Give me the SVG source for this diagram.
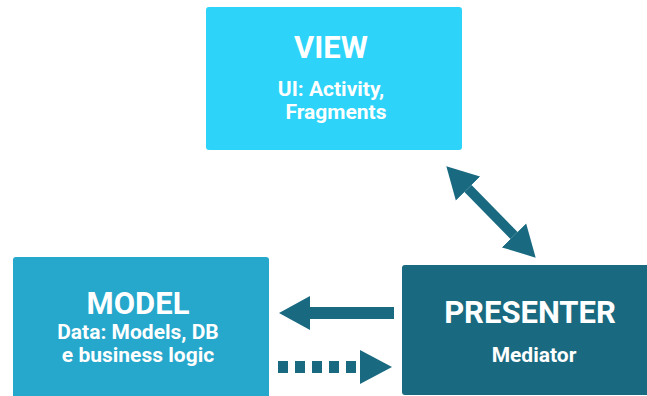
<svg xmlns="http://www.w3.org/2000/svg" width="647" height="396" viewBox="0 0 647 396">
<style>
.t{font-family:Roboto,"Liberation Sans",sans-serif;font-weight:bold;fill:#fff;text-anchor:middle}
.h{font-size:31px}
.s{font-size:21px}
.c{stroke:#196a80;fill:none}
</style>
<defs>
<marker id="ah" markerUnits="userSpaceOnUse" markerWidth="32" markerHeight="36" refX="0" refY="17" orient="auto-start-reverse" viewBox="0 0 32 34">
<path d="M0,0 L31,17 L0,34 z" fill="#196a80"/>
</marker>
<marker id="ah2" markerUnits="userSpaceOnUse" markerWidth="40" markerHeight="36" refX="-4" refY="17" orient="auto" viewBox="-4 0 40 34">
<path d="M0,0 L32,17 L0,34 z" fill="#196a80"/>
</marker>
</defs>
<rect width="647" height="396" fill="#fff"/>
<g id="view">
<rect x="206" y="7" width="256" height="143" rx="3" fill="#2dd3f9"/>
<text class="t h" x="331" y="58">VIEW</text>
<text class="t s" x="331" y="96">UI: Activity,</text>
<text class="t s" x="336" y="119">Fragments</text>
</g>
<g id="model">
<rect x="13" y="257" width="256" height="145" rx="3" fill="#26a7cc"/>
<text class="t h" x="138" y="314">MODEL</text>
<text class="t s" x="138" y="339">Data: Models, DB</text>
<text class="t s" x="138" y="362">e business logic</text>
</g>
<g id="presenter">
<rect x="402" y="265" width="250" height="130" rx="3" fill="#196a80"/>
<text class="t h" x="530" y="323">PRESENTER</text>
<text class="t s" x="534" y="362">Mediator</text>
</g>
<g id="connectors">
<line class="c" x1="468" y1="188.5" x2="514" y2="235.5" stroke-width="10" marker-start="url(#ah)" marker-end="url(#ah)"/>
<line class="c" x1="394" y1="313" x2="310" y2="313" stroke-width="12" marker-end="url(#ah)"/>
<line class="c" x1="278" y1="367" x2="356" y2="367" stroke-width="12" stroke-dasharray="10 7" marker-end="url(#ah2)"/>
</g>
</svg>
